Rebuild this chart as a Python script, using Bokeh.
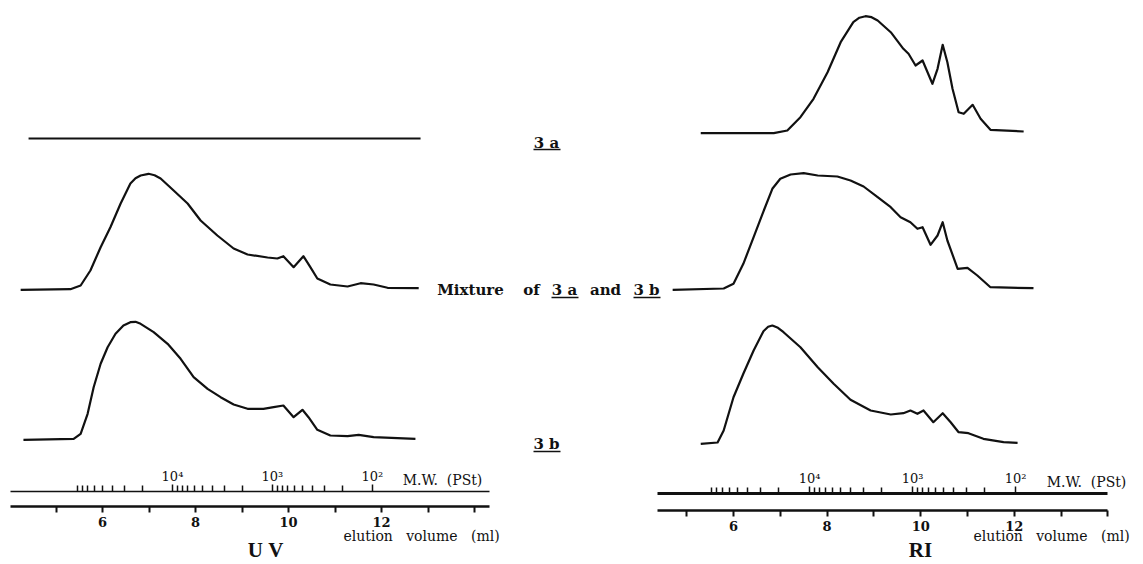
from bokeh.plotting import figure
from bokeh.models import (Range1d, LinearAxis, LogAxis, LogScale, FixedTicker,
                          Label, CustomJSTickFormatter)
from bokeh.embed import file_html
from bokeh.resources import INLINE

# ---------------- data (elution volume in ml, detector signal in arbitrary units) -----
uv_3a_vol = [4.41, 12.84]
uv_3a_sig = [0, 0]

uv_mix_vol = [4.24, 5.31, 5.53, 5.74, 5.96, 6.17, 6.39, 6.60, 6.71, 6.82, 6.99, 7.12, 7.25,
              7.53, 7.83, 8.11, 8.47, 8.82, 9.12, 9.55, 9.76, 9.89, 10.11, 10.32, 10.47,
              10.62, 10.90, 11.27, 11.55, 11.83, 12.13, 12.80]
uv_mix_sig = [0, 0.6, 4.3, 19.3, 42.6, 62.6, 86.3, 106.3, 111.5, 114.3, 116.0, 114.5, 111.3,
              99.3, 86.3, 69.3, 54.3, 41.3, 35.3, 32.3, 31.3, 33.6, 22.6, 33.6, 22.6,
              11.3, 5.3, 3.3, 6.6, 5.3, 2.0, 1.6]

uv_3b_vol = [4.30, 5.38, 5.53, 5.68, 5.81, 5.96, 6.11, 6.28, 6.45, 6.60, 6.71, 6.82, 7.10,
             7.40, 7.68, 7.96, 8.26, 8.54, 8.82, 9.12, 9.46, 9.68, 9.89, 10.11, 10.30,
             10.43, 10.62, 10.90, 11.27, 11.51, 11.83, 12.73]
uv_3b_sig = [0, 1, 6, 26, 52.6, 76, 92.6, 106, 114.3, 117.6, 118, 116, 107.6,
             96, 81, 62.6, 51, 42.6, 35.3, 31, 31, 32.6, 34.3, 22.6, 30,
             22.6, 10, 4.3, 3.6, 5, 2.6, 1]

ri_3a_vol = [5.30, 6.86, 7.15, 7.43, 7.71, 8.01, 8.29, 8.56, 8.69, 8.82, 8.95, 9.08, 9.36,
             9.63, 9.74, 9.89, 10.04, 10.25, 10.36, 10.47, 10.57, 10.68, 10.81, 10.92,
             11.11, 11.28, 11.49, 12.20]
ri_3a_sig = [0, 0, 2.7, 16, 34.4, 61, 91, 111, 115.5, 117, 116, 112.7, 101,
             84.4, 79.4, 67.7, 72.7, 49.4, 64.4, 88.4, 71, 44.4, 21, 19.4,
             28.4, 14.4, 3.4, 1.7]

ri_mix_vol = [4.70, 5.79, 6.00, 6.21, 6.43, 6.62, 6.83, 7.00, 7.22, 7.50, 7.80, 8.22, 8.50,
              8.78, 9.08, 9.36, 9.57, 9.78, 9.93, 10.04, 10.21, 10.36, 10.47, 10.57, 10.79,
              11.00, 11.21, 11.49, 12.41]
ri_mix_sig = [0, 1.3, 6, 26, 52.6, 76, 101, 111, 115.3, 116.6, 114.3, 113.3, 109.3,
              103.3, 92.6, 82.6, 72.6, 67.6, 61, 62.6, 45, 54.3, 67.6, 49.3, 21,
              22, 14.3, 2.6, 1.6]

ri_3b_vol = [5.30, 5.66, 5.79, 6.00, 6.21, 6.43, 6.64, 6.74, 6.83, 6.95, 7.07, 7.43, 7.80,
             8.14, 8.50, 8.93, 9.36, 9.63, 9.78, 9.93, 10.06, 10.27, 10.47, 10.64, 10.81,
             11.02, 11.34, 11.77, 12.07]
ri_3b_sig = [0, 1.3, 13.3, 46.6, 70, 93.3, 112.6, 117, 118.3, 116, 111.6, 96.6, 76.6,
             60, 44, 33.3, 29.3, 30.6, 33.3, 30, 33.3, 21.6, 30.6, 21.6, 11.6,
             10.6, 5, 1.6, 1]

elution_ticks = [5, 6, 7, 8, 9, 10, 11, 12, 13, 14]
mw_major = [1e4, 1e3, 1e2]
mw_minor = [n * 10 ** d for d in (2, 3, 4) for n in range(2, 10)]

# ---------------- layout constants (page pixels) ----------------------------------------
W, H = 1143, 564
X0, Y0 = 0, 0          # position of the canvas on the page


# left (UV) panel: page x = 102 + (v-6)*46.5 ; right (RI): page x = 733 + (v-6)*46.8
def v_left(px):
    return 6 + (px - 102) / 46.5


def v_right(px):
    return 6 + (px - 733) / 46.8


# MW calibration (log10 MW linear in elution volume)
def mw_left(v):
    return 10 ** (4 - (v - 7.505) / 2.15)


def mw_right(v):
    return 10 ** (4 - (v - 7.624) / 2.201)


p = figure(width=W, height=H, output_backend="svg", toolbar_location=None,
           x_range=Range1d(v_left(X0), v_left(X0 + W)), y_range=Range1d(Y0 + H, Y0),
           x_axis_location=None, y_axis_location=None, min_border=0,
           outline_line_color=None, background_fill_color="white",
           border_fill_color="white")
p.grid.visible = False

p.extra_x_ranges = {
    "ri": Range1d(v_right(X0), v_right(X0 + W)),
    "mwL": Range1d(mw_left(v_left(X0)), mw_left(v_left(X0 + W))),
    "mwR": Range1d(mw_right(v_right(X0)), mw_right(v_right(X0 + W))),
    "px": Range1d(X0, X0 + W),
}
p.extra_x_scales = {"mwL": LogScale(), "mwR": LogScale()}

INK = "#111111"


# ---------------- curves -----------------------------------------------------------------
def trace(vol, sig, base, rng):
    y = [base - s for s in sig]
    kw = {} if rng is None else {"x_range_name": rng}
    p.line(vol, y, line_color=INK, line_width=2.2, line_join="round", **kw)


trace(uv_3a_vol, uv_3a_sig, 138, None)
trace(uv_mix_vol, uv_mix_sig, 289.3, None)
trace(uv_3b_vol, uv_3b_sig, 439.3, None)
trace(ri_3a_vol, ri_3a_sig, 132.7, "ri")
trace(ri_mix_vol, ri_mix_sig, 289.3, "ri")
trace(ri_3b_vol, ri_3b_sig, 443.3, "ri")

# ---------------- axes -------------------------------------------------------------------
el_fmt = CustomJSTickFormatter(code="""
    return (tick >= 6 && tick <= 12 && tick % 2 == 0) ? tick.toFixed(0) : '';
""")
mw_fmt = CustomJSTickFormatter(code="""
    const e = Math.round(Math.log10(tick));
    const m = {4: '10\u2074', 3: '10\u00b3', 2: '10\u00b2'};
    return m[e] || '';
""")


def elution_axis(rng, loc, lo, hi, lw):
    kw = {} if rng is None else {"x_range_name": rng}
    ax = LinearAxis(fixed_location=loc, bounds=(lo, hi),
                    ticker=FixedTicker(ticks=elution_ticks, minor_ticks=[]),
                    formatter=el_fmt, axis_line_width=lw, axis_line_color=INK,
                    major_tick_line_color=INK, major_tick_line_width=2,
                    major_tick_out=6, major_tick_in=0, minor_tick_out=0, minor_tick_in=0,
                    major_label_standoff=4, major_label_text_font="DejaVu Serif",
                    major_label_text_font_style="bold", major_label_text_font_size="13px",
                    major_label_text_color=INK, **kw)
    p.add_layout(ax, "below")


def mw_axis(rng, loc, lo, hi, lw):
    ax = LogAxis(x_range_name=rng, fixed_location=loc, bounds=(min(lo, hi), max(lo, hi)),
                 ticker=FixedTicker(ticks=mw_major, minor_ticks=mw_minor),
                 formatter=mw_fmt, axis_line_width=lw, axis_line_color=INK,
                 major_tick_line_color=INK, major_tick_line_width=1.5,
                 minor_tick_line_color=INK, minor_tick_line_width=1.5,
                 major_tick_out=7, major_tick_in=0, minor_tick_out=6, minor_tick_in=0,
                 major_label_standoff=1, major_label_text_font="DejaVu Serif",
                 major_label_text_font_size="13px", major_label_text_color=INK)
    p.add_layout(ax, "above")


elution_axis(None, 506, v_left(10), v_left(489), 2.5)
elution_axis("ri", 510, v_right(657), v_right(1107), 2.5)
mw_axis("mwL", 491, mw_left(v_left(10)), mw_left(v_left(489)), 1.5)
mw_axis("mwR", 493, mw_right(v_right(657)), mw_right(v_right(1107)), 3)


# ---------------- texts ------------------------------------------------------------------
def txt(s, x, y, size, bold=False, align="center", font="DejaVu Serif"):
    p.add_layout(Label(x=x, y=y, x_range_name="px", text=s, text_align=align,
                       text_baseline="middle", text_font=font,
                       text_font_size=size, text_font_style="bold" if bold else "normal",
                       text_color=INK))


def underline(x0, x1, y):
    p.segment(x0=[x0], y0=[y], x1=[x1], y1=[y], x_range_name="px",
              line_color=INK, line_width=1.5)


SP2 = "\u00a0\u00a0"
SP3 = "\u00a0\u00a0\u00a0"

txt("3\u00a0a", 546, 142, "15px", bold=True)
underline(533, 560, 149)
txt("3\u00a0b", 546, 443, "15px", bold=True)
underline(533, 560, 451)

txt("Mixture", 470, 289, "15px", bold=True)
txt("of", 531, 289, "15px", bold=True)
txt("3\u00a0a", 564, 289, "15px", bold=True)
underline(551, 578, 297)
txt("and", 605, 289, "15px", bold=True)
txt("3\u00a0b", 646, 289, "15px", bold=True)
underline(633, 660, 297)

txt("M.W." + SP2 + "(PSt)", 442, 479, "14px")
txt("M.W." + SP2 + "(PSt)", 1086, 481, "14px")
txt("elution" + SP3 + "volume" + SP3 + "(ml)", 343, 535, "14px", align="left")
txt("elution" + SP3 + "volume" + SP3 + "(ml)", 973, 535, "14px", align="left")
txt("U\u00a0V", 265, 549, "21px", bold=True, font="Liberation Serif")
txt("RI", 920, 549, "21px", bold=True, font="Liberation Serif")

open("out.html", "w").write(file_html(p, INLINE))
